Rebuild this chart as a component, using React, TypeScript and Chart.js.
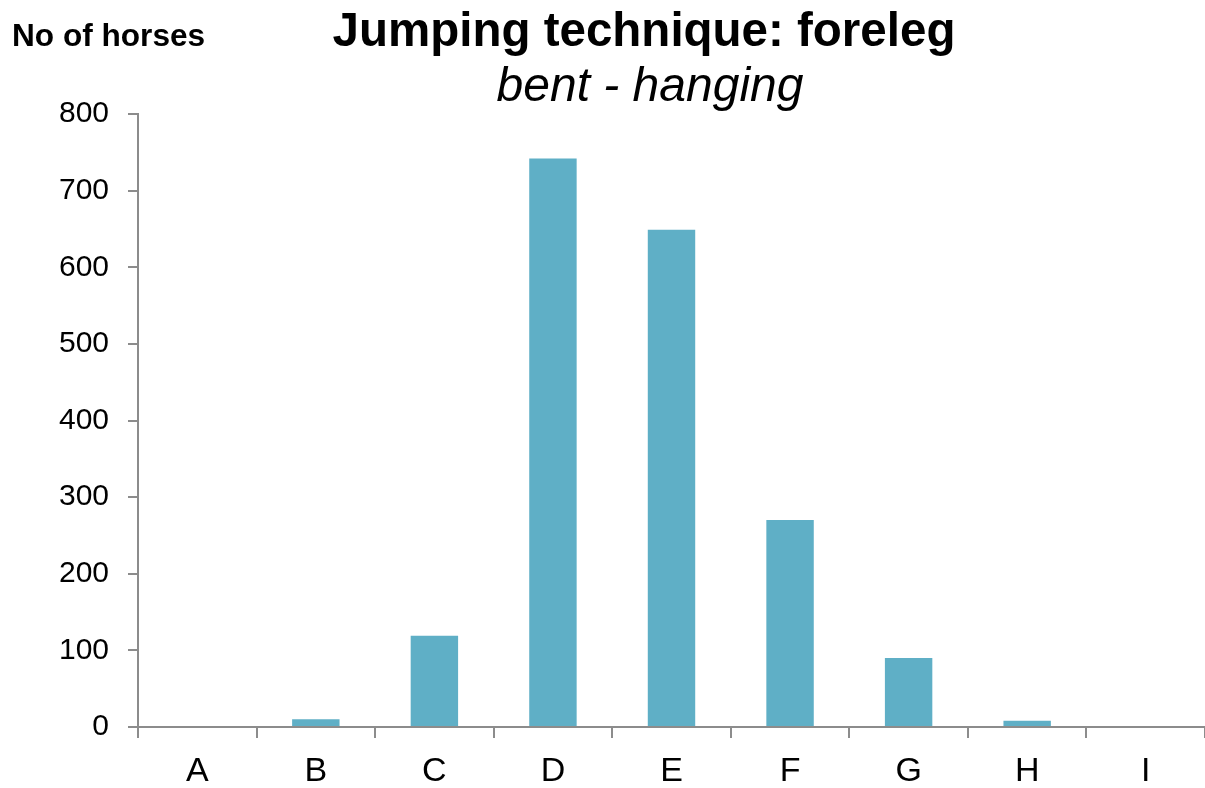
import React, { useEffect, useRef } from "react";
import { Chart, registerables } from "chart.js";

Chart.register(...registerables);

const categories = ["A", "B", "C", "D", "E", "F", "G", "H", "I"];
const horses = [0, 10, 119, 742, 649, 270, 90, 8, 0];
const yMin = 0;
const yMax = 800;
const yStep = 100;

const titleText = "Jumping technique: foreleg";
const subtitleText = "bent - hanging";
const yAxisLabel = "No of horses";

const FONT = "'Liberation Sans', Arial, Helvetica, sans-serif";
const AXIS_GRAY = "#8c8c8c";

const textPlugin = {
  id: "textPlugin",
  afterDraw(chart: any) {
    const ctx = chart.ctx;
    ctx.save();
    ctx.fillStyle = "#000";
    ctx.textBaseline = "alphabetic";
    ctx.textAlign = "left";
    ctx.font = `bold 31.6px ${FONT}`;
    ctx.fillText(yAxisLabel, 12, 46);
    ctx.textAlign = "center";
    ctx.font = `bold 47.5px ${FONT}`;
    ctx.fillText(titleText, 644, 46);
    ctx.font = `italic 48px ${FONT}`;
    ctx.fillText(subtitleText, 650, 100.5);
    ctx.restore();
  },
};

export default function App() {
  const ref = useRef<HTMLCanvasElement | null>(null);

  useEffect(() => {
    if (!ref.current) return;
    const chart = new Chart(ref.current, {
      type: "bar",
      data: {
        labels: categories,
        datasets: [
          {
            data: horses,
            backgroundColor: "#5fafc6",
            borderWidth: 0,
            barPercentage: 0.4,
            categoryPercentage: 1.0,
          },
        ],
      },
      options: {
        animation: false,
        responsive: true,
        maintainAspectRatio: false,
        layout: { padding: { left: 59, right: 0, top: 114, bottom: 0 } },
        plugins: {
          legend: { display: false },
          tooltip: { enabled: false },
          title: { display: false },
        },
        scales: {
          x: {
            afterFit(scale: any) {
              scale.height = 61;
            },
            grid: {
              display: true,
              drawOnChartArea: false,
              drawTicks: true,
              tickLength: 11,
              color: AXIS_GRAY,
              lineWidth: 2,
              offset: true,
            },
            border: { display: true, color: AXIS_GRAY, width: 2 },
            ticks: {
              color: "#000",
              font: { family: FONT, size: 34 },
              padding: 13,
              maxRotation: 0,
            },
          },
          y: {
            min: yMin,
            max: yMax,
            afterFit(scale: any) {
              scale.width = 79;
            },
            grid: {
              display: true,
              drawOnChartArea: false,
              drawTicks: true,
              tickLength: 10,
              color: AXIS_GRAY,
              lineWidth: 2,
            },
            border: { display: true, color: AXIS_GRAY, width: 2 },
            ticks: {
              stepSize: yStep,
              color: "#000",
              font: { family: FONT, size: 30 },
              padding: 19,
            },
          },
        },
      },
      plugins: [textPlugin],
    });
    return () => chart.destroy();
  }, []);

  return (
    <div style={{ position: "fixed", left: 0, top: 0, width: 1205, height: 788, background: "#fff" }}>
      <canvas ref={ref} />
    </div>
  );
}
